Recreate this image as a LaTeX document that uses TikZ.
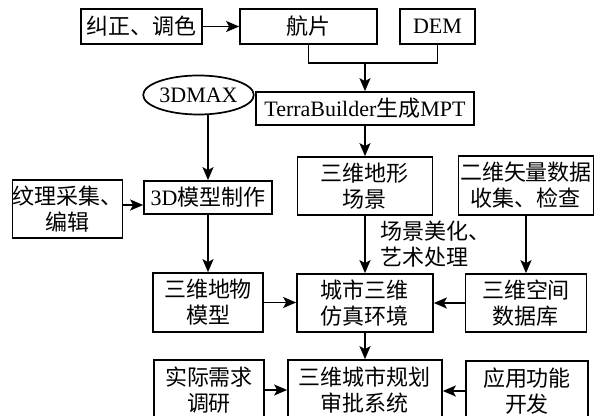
\documentclass[tikz,border=0pt]{standalone}
\usepackage{fontspec}
\setmainfont{Liberation Serif}
\newfontfamily\cjk{Noto Sans CJK SC}
\usetikzlibrary{arrows.meta,shapes.geometric}
\begin{document}
\begin{tikzpicture}[x=0.5pt,y=-0.5pt,
  box/.style={draw,line width=0.85pt,rectangle,inner sep=0pt,align=center,font=\fontsize{11}{13}\selectfont},
  arr/.style={line width=0.85pt,-{Stealth[length=6.5pt,width=5.5pt,inset=1.5pt]}},
  ln/.style={line width=0.85pt}]
\useasboundingbox (0,0) rectangle (607,416);
\clip (0,0) rectangle (607,416);
\node[box,minimum width=60.5pt,minimum height=17.5pt] (jz) at (141.5,26.5) {\cjk 纠正、调色};
\node[box,minimum width=68.5pt,minimum height=17.5pt] (hp) at (308.5,26.5) {\cjk 航片};
\node[box,minimum width=37.5pt,minimum height=17.5pt] (dem) at (437.5,26.5) {DEM};
\node[box,minimum width=109pt,minimum height=16.5pt] (tb) at (365,108.5) {TerraBuilder{\cjk 生成}MPT};
\node[draw,line width=0.85pt,ellipse,inner sep=0pt,minimum width=45.5pt,minimum height=19.5pt,font=\fontsize{11}{13}\selectfont] (el) at (198.5,95) {3DMAX};
\node[box,minimum width=54.5pt,minimum height=29pt] (wl) at (67.5,209) {\cjk 纹理采集、\\\cjk 编辑};
\node[box,minimum width=64pt,minimum height=16.5pt] (md) at (208,197.5) {3D{\cjk 模型制作}};
\node[box,minimum width=67.5pt,minimum height=29pt] (dx) at (365,186) {\cjk 三维地形\\\cjk 场景};
\node[box,minimum width=67.5pt,minimum height=29.5pt] (sl) at (526,185.5) {\cjk 二维矢量数据\\\cjk 收集、检查};
\node[box,minimum width=55pt,minimum height=29.5pt] (dw) at (208,302.5) {\cjk 三维地物\\\cjk 模型};
\node[box,minimum width=68pt,minimum height=29pt] (cs) at (365,303) {\cjk 城市三维\\\cjk 仿真环境};
\node[box,minimum width=60.5pt,minimum height=29pt] (kj) at (526,303) {\cjk 三维空间\\\cjk 数据库};
\node[box,minimum width=55pt,minimum height=30pt] (sj) at (209,390) {\cjk 实际需求\\\cjk 调研};
\node[box,minimum width=77pt,minimum height=30pt] (gh) at (365,390) {\cjk 三维城市规划\\\cjk 审批系统};
\node[box,minimum width=61pt,minimum height=30pt] (yy) at (527,391) {\cjk 应用功能\\\cjk 开发};
\coordinate (j) at (365,63);
\draw[arr] (jz) -- (hp);
\draw[ln] (hp.south) |- (j) -| (dem.south);
\draw[arr] (j) -- (tb.north);
\draw[arr] (md.north |- el.south) -- (md.north);
\draw[arr] ([yshift=2pt]wl.east) -- ([yshift=2pt]wl.east -| md.west);
\draw[arr] (md.south) -- (md.south |- dw.north);
\draw[arr] (tb.south) -- (dx.north);
\draw[arr] (dx.south) -- (cs.north) node[pos=0.5,right=4pt,align=left,font=\fontsize{11}{13}\selectfont] {\cjk 场景美化、\\\cjk 艺术处理};
\draw[arr] (sl.south) -- (kj.north);
\draw[arr] (dw.east) -- (dw.east -| cs.west);
\draw[arr] (kj.west) -- (kj.west -| cs.east);
\draw[arr] (cs.south) -- (gh.north);
\draw[arr] (sj.east) -- (sj.east -| gh.west);
\draw[arr] (yy.west) -- (yy.west -| gh.east);
\end{tikzpicture}
\end{document}
